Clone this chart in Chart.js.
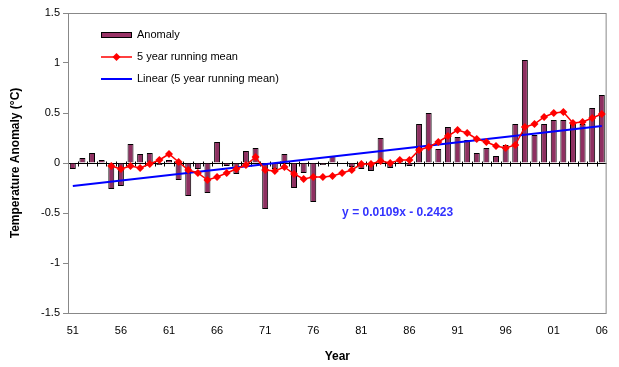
<!DOCTYPE html>
<html>
<head>
<meta charset="utf-8">
<title>Temperature Anomaly</title>
<script src="https://cdn.jsdelivr.net/npm/chart.js@4.4.1/dist/chart.umd.min.js"></script>
<style>
    body { margin: 0; background: #fff; }
    #chart { display: block; }
</style>
</head>
<body>
<canvas id="chart" width="619" height="367"></canvas>
<script>
// Years on the category axis
var years = [1951, 1952, 1953, 1954, 1955, 1956, 1957, 1958, 1959, 1960,
    1961, 1962, 1963, 1964, 1965, 1966, 1967, 1968, 1969, 1970,
    1971, 1972, 1973, 1974, 1975, 1976, 1977, 1978, 1979, 1980,
    1981, 1982, 1983, 1984, 1985, 1986, 1987, 1988, 1989, 1990,
    1991, 1992, 1993, 1994, 1995, 1996, 1997, 1998, 1999, 2000,
    2001, 2002, 2003, 2004, 2005, 2006];

// Annual anomaly (bars)
var anomaly = [-0.06, 0.05, 0.10, 0.03, -0.26, -0.23, 0.19, 0.09, 0.10, -0.02,
    0.03, -0.17, -0.33, -0.06, -0.30, 0.21, -0.03, -0.11, 0.12, 0.15,
    -0.46, -0.06, 0.09, -0.25, -0.10, -0.39, -0.02, 0.07, 0.00, -0.04,
    -0.06, -0.08, 0.25, -0.05, 0.03, -0.03, 0.39, 0.50, 0.14, 0.36,
    0.26, 0.23, 0.10, 0.15, 0.07, 0.18, 0.39, 1.03, 0.28, 0.39,
    0.43, 0.43, 0.39, 0.39, 0.55, 0.68];

// 5 year running mean, 1955 - 2006
var runningMean = [-0.03, -0.06, -0.03, -0.05, -0.01, 0.03, 0.09, 0.01, -0.07, -0.10,
    -0.17, -0.14, -0.10, -0.06, -0.02, 0.06, -0.07, -0.08, -0.04, -0.11,
    -0.16, -0.14, -0.14, -0.13, -0.10, -0.07, -0.01, -0.01, 0.02, 0.00,
    0.03, 0.03, 0.13, 0.16, 0.21, 0.27, 0.33, 0.30, 0.24, 0.21,
    0.17, 0.15, 0.18, 0.36, 0.39, 0.46, 0.50, 0.51, 0.40, 0.41,
    0.45, 0.49];

// Linear trend end points (1951 and 2006)
var trendStart = -0.23;
var trendEnd = 0.37;
var trendLabel = 'y = 0.0109x - 0.2423';

var yTicks = [-1.5, -1, -0.5, 0, 0.5, 1, 1.5];

var FONT = '"Liberation Sans", Arial, sans-serif';

// pad the running mean so it lines up with the years
var meanData = years.map(function(y, i) {
    var k = i - (years.length - runningMean.length);
    return k >= 0 ? runningMean[k] : null;
});
var trendData = years.map(function(y, i) {
    if (i === 0) return trendStart;
    if (i === years.length - 1) return trendEnd;
    return null;
});

// Frame, zero axis with tick marks, legend and equation
var decorPlugin = {
    id: 'decor',
    beforeDatasetsDraw: function(chart) {
        var ctx = chart.ctx;
        var area = chart.chartArea;
        var y0 = Math.round(chart.scales.y.getPixelForValue(0)) + 0.5;
        ctx.save();
        ctx.strokeStyle = '#000';
        ctx.lineWidth = 1;
        ctx.beginPath();
        ctx.moveTo(area.left, y0);
        ctx.lineTo(area.right, y0);
        var step = (area.right - area.left) / years.length;
        for (var i = 1; i < years.length; i++) {
            var x = Math.round(area.left + i * step) + 0.5;
            ctx.moveTo(x, y0 - 2);
            ctx.lineTo(x, y0 + 3);
        }
        ctx.stroke();
        ctx.restore();
    },
    afterDraw: function(chart) {
        var ctx = chart.ctx;
        var area = chart.chartArea;
        ctx.save();
        // plot frame
        ctx.strokeStyle = '#888';
        ctx.lineWidth = 1;
        ctx.strokeRect(area.left + 0.5, area.top + 0.5, area.right - area.left - 1, area.bottom - area.top);

        // legend
        var lx = area.left + 33, ly = area.top + 22;
        ctx.font = '11px ' + FONT;
        ctx.textBaseline = 'middle';
        ctx.fillStyle = '#993366';
        ctx.fillRect(lx, ly - 3, 31, 6);
        ctx.strokeStyle = '#000';
        ctx.strokeRect(lx + 0.5, ly - 2.5, 30, 5);
        ctx.fillStyle = '#000';
        ctx.fillText('Anomaly', lx + 36, ly);

        ly += 22;
        ctx.strokeStyle = '#ff0000';
        ctx.lineWidth = 1.5;
        ctx.beginPath();
        ctx.moveTo(lx, ly);
        ctx.lineTo(lx + 31, ly);
        ctx.stroke();
        ctx.fillStyle = '#ff0000';
        ctx.beginPath();
        ctx.moveTo(lx + 15.5, ly - 4);
        ctx.lineTo(lx + 19.5, ly);
        ctx.lineTo(lx + 15.5, ly + 4);
        ctx.lineTo(lx + 11.5, ly);
        ctx.closePath();
        ctx.fill();
        ctx.fillStyle = '#000';
        ctx.fillText('5 year running mean', lx + 36, ly);

        ly += 22;
        ctx.strokeStyle = '#0000ff';
        ctx.lineWidth = 2;
        ctx.beginPath();
        ctx.moveTo(lx, ly);
        ctx.lineTo(lx + 31, ly);
        ctx.stroke();
        ctx.fillStyle = '#000';
        ctx.fillText('Linear (5 year running mean)', lx + 36, ly);

        // trend equation
        ctx.font = 'bold 12px ' + FONT;
        ctx.fillStyle = '#3333ff';
        ctx.textBaseline = 'middle';
        ctx.fillText(trendLabel, chart.scales.x.getPixelForValue(years.indexOf(1979)), chart.scales.y.getPixelForValue(-0.5));
        ctx.restore();
    }
};

var ctx = document.getElementById('chart').getContext('2d');
new Chart(ctx, {
    type: 'bar',
    data: {
        labels: years,
        datasets: [{
            type: 'line',
            label: '5 year running mean',
            data: meanData,
            borderColor: '#ff0000',
            backgroundColor: '#ff0000',
            borderWidth: 1.5,
            pointStyle: 'rectRot',
            pointRadius: 4,
            pointBorderWidth: 0,
            tension: 0,
            order: 0
        }, {
            type: 'line',
            label: 'Linear (5 year running mean)',
            data: trendData,
            borderColor: '#0000ff',
            borderWidth: 2,
            pointRadius: 0,
            spanGaps: true,
            order: 1
        }, {
            label: 'Anomaly',
            data: anomaly,
            backgroundColor: '#8e3061',
            borderColor: '#000',
            borderWidth: 1,
            categoryPercentage: 1,
            barPercentage: 0.62,
            order: 2
        }]
    },
    options: {
        responsive: false,
        animation: false,
        devicePixelRatio: 1,
        layout: { padding: { top: 13, right: 7, left: 0, bottom: 0 } },
        plugins: {
            legend: { display: false },
            tooltip: { enabled: false }
        },
        scales: {
            x: {
                grid: { display: false, drawTicks: false },
                border: { display: false },
                ticks: {
                    autoSkip: false,
                    maxRotation: 0,
                    padding: 11,
                    color: '#000',
                    font: { family: FONT, size: 11 },
                    callback: function(v, i) {
                        return i % 5 === 0 ? String(years[i]).slice(2) : '';
                    }
                },
                title: {
                    display: true,
                    text: 'Year',
                    color: '#000',
                    font: { family: FONT, size: 12, weight: 'bold' },
                    padding: { top: 0, bottom: 3 }
                },
                afterFit: function(s) { s.height = 54; }
            },
            y: {
                min: -1.5,
                max: 1.5,
                grid: { drawOnChartArea: false, tickLength: 5, color: '#888' },
                border: { color: '#888' },
                afterBuildTicks: function(s) {
                    s.ticks = yTicks.map(function(v) { return { value: v }; });
                },
                ticks: {
                    padding: 3,
                    color: '#000',
                    font: { family: FONT, size: 11 },
                    callback: function(v) { return String(v); }
                },
                title: {
                    display: true,
                    text: 'Temperature Anomaly (°C)',
                    color: '#000',
                    font: { family: FONT, size: 12, weight: 'bold' },
                    padding: { top: 8, bottom: 0 }
                },
                afterFit: function(s) { s.width = 68; }
            }
        }
    },
    plugins: [decorPlugin]
});
</script>
</body>
</html>
